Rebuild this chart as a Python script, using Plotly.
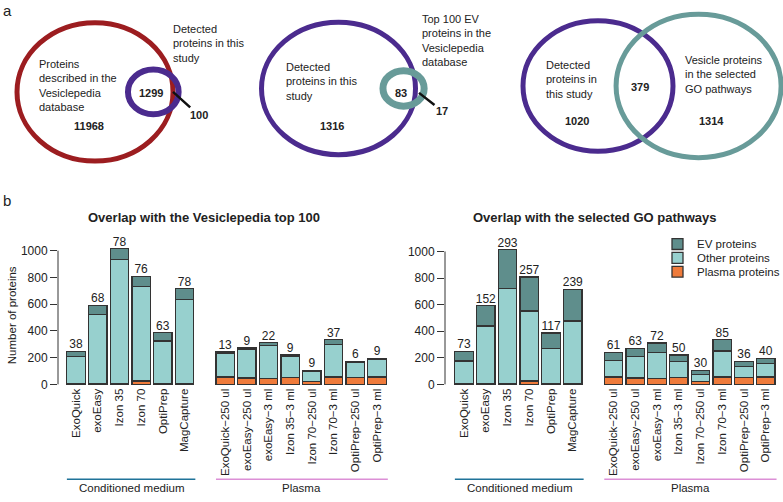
import math
import plotly.graph_objects as go

W, H = 783, 502
FONT = "Liberation Sans, Arial, sans-serif"

# ---------------- data ----------------
cm_labels = ["ExoQuick", "exoEasy", "Izon 35", "Izon 70", "OptiPrep", "MagCapture"]
plasma_labels = ["ExoQuick\u2212250 ul", "exoEasy\u2212250 ul", "exoEasy\u22123 ml", "Izon 35\u22123 ml",
                 "Izon 70\u2212250 ul", "Izon 70\u22123 ml", "OptiPrep\u2212250 ul", "OptiPrep\u22123 ml"]

cm_total = [248, 592, 1014, 808, 387, 715]
plasma_total = [242, 272, 311, 222, 106, 335, 172, 195]
cm_plasma_prot = [6, 8, 8, 25, 6, 6]
plasma_plasma_prot = [55, 48, 42, 53, 20, 55, 53, 55]

top100_cm_ev = [38, 68, 78, 76, 63, 78]
top100_plasma_ev = [13, 9, 22, 9, 9, 37, 6, 9]
go_cm_ev = [73, 152, 293, 257, 117, 239]
go_plasma_ev = [61, 63, 72, 50, 30, 85, 36, 40]

y_ticks = [0, 200, 400, 600, 800, 1000]

series_names = ["EV proteins", "Other proteins", "Plasma proteins"]

# Venn counts: (only A, both, only B)
venn1_counts = [11968, 1299, 100]
venn2_counts = [1316, 83, 17]
venn3_counts = [1020, 379, 1314]

C_EV = "#5f8e8c"
C_OTHER = "#97d0ce"
C_PLASMA = "#ef7b3b"
C_EDGE = "#333333"
series_colors = {"EV proteins": C_EV, "Other proteins": C_OTHER, "Plasma proteins": C_PLASMA}


def px(x):
    return x / W


def py(y):
    return 1 - y / H


# ---------------- bar positions ----------------
GAP_START = 6.87
x_cm = list(range(len(cm_labels)))
x_pl = [GAP_START + i for i in range(len(plasma_labels))]
x_all = x_cm + x_pl
labels_all = cm_labels + plasma_labels
total_all = cm_total + plasma_total
plasma_all = cm_plasma_prot + plasma_plasma_prot

fig = go.Figure()

panels = [
    dict(xa="x", ya="y", ev=top100_cm_ev + top100_plasma_ev),
    dict(xa="x2", ya="y2", ev=go_cm_ev + go_plasma_ev),
]

for p in panels:
    ev = p["ev"]
    other = [t - e - pl for t, e, pl in zip(total_all, ev, plasma_all)]
    for name, vals in [("Plasma proteins", plasma_all),
                       ("Other proteins", other),
                       ("EV proteins", ev)]:
        fig.add_trace(go.Bar(
            x=x_all, y=vals, name=name, xaxis=p["xa"], yaxis=p["ya"],
            width=[0.85] * len(x_all),
            marker=dict(color=series_colors[name], line=dict(color=C_EDGE, width=1.3)),
            legendgroup=name, showlegend=False, hoverinfo="skip"))
    fig.add_trace(go.Scatter(
        x=x_all, y=total_all, text=[str(v) for v in ev], mode="text",
        textposition="top center", textfont=dict(size=12, color="#222", family=FONT),
        xaxis=p["xa"], yaxis=p["ya"], cliponaxis=False, showlegend=False,
        hoverinfo="skip"))

# ---------------- Venn diagrams ----------------
def lens_area(r1, r2, d):
    if d >= r1 + r2:
        return 0.0
    if d <= abs(r1 - r2):
        return math.pi * min(r1, r2) ** 2
    a1 = r1 * r1 * math.acos((d * d + r1 * r1 - r2 * r2) / (2 * d * r1))
    a2 = r2 * r2 * math.acos((d * d + r2 * r2 - r1 * r1) / (2 * d * r2))
    a3 = 0.5 * math.sqrt((-d + r1 + r2) * (d + r1 - r2) * (d - r1 + r2) * (d + r1 + r2))
    return a1 + a2 - a3


def solve_d(r1, r2, overlap):
    lo, hi = abs(r1 - r2), r1 + r2
    for _ in range(200):
        mid = (lo + hi) / 2
        if lens_area(r1, r2, mid) > overlap:
            lo = mid
        else:
            hi = mid
    return (lo + hi) / 2


venns = [
    dict(counts=venn1_counts, ax="3", cA=(95, 93), rA_px=(78, 70),
         colA="#9c1d20", colB="#4b2b8e", wA=5, wB=6),
    dict(counts=venn2_counts, ax="4", cA=(338.5, 89.5), rA_px=(77, 67),
         colA="#4b2b8e", colB="#689b99", wA=5, wB=7),
    dict(counts=venn3_counts, ax="5", cA=(598, 87), rA_px=(75, 66),
         colA="#4b2b8e", colB="#689b99", wA=5, wB=5),
]

layout_axes = {}
shapes = []
VTOP, VBOT = 0, 200
for v in venns:
    a_only, both, b_only = v["counts"]
    rA = math.sqrt((a_only + both) / math.pi)
    rB = math.sqrt((b_only + both) / math.pi)
    d = solve_d(rA, rB, both)
    sx = v["rA_px"][0] / rA
    sy = v["rA_px"][1] / rA
    cx, cy = v["cA"]
    n = v["ax"]
    layout_axes["xaxis" + n] = dict(domain=[0, 1], range=[(0 - cx) / sx, (W - cx) / sx],
                                    visible=False, anchor="y" + n, fixedrange=True)
    layout_axes["yaxis" + n] = dict(domain=[py(VBOT), py(VTOP)],
                                    range=[(cy - VBOT) / sy, (cy - VTOP) / sy],
                                    visible=False, anchor="x" + n, fixedrange=True)
    shapes.append(dict(type="circle", xref="x" + n, yref="y" + n,
                       x0=-rA, x1=rA, y0=-rA, y1=rA,
                       line=dict(color=v["colA"], width=v["wA"])))
    shapes.append(dict(type="circle", xref="x" + n, yref="y" + n,
                       x0=d - rB, x1=d + rB, y0=-rB, y1=rB,
                       line=dict(color=v["colB"], width=v["wB"])))

annotations = []


def text(x, y, s, size=11, bold=False, anchor="center", angle=0, color="#222"):
    annotations.append(dict(
        x=px(x), y=py(y), xref="paper", yref="paper",
        text=("<b>%s</b>" % s) if bold else s, showarrow=False,
        xanchor=anchor, yanchor="middle", align=anchor if anchor != "center" else "center",
        textangle=angle, font=dict(size=size, color=color, family=FONT)))


# panel letters
text(7, 11, "a", size=15)
text(7, 203, "b", size=15)

# Venn 1 labels
text(37, 87, "Proteins<br>described in the<br>Vesiclepedia<br>database", anchor="left")
text(171, 44, "Detected<br>proteins in this<br>study", anchor="left")
text(150.5, 94, str(venn1_counts[1]), bold=True)
text(89, 128, str(venn1_counts[0]), bold=True)
# Venn 2 labels
text(284, 82, "Detected<br>proteins in this<br>study", anchor="left")
text(420, 41, "Top 100 EV<br>proteins in the<br>Vesiclepedia<br>database", anchor="left")
text(400.5, 94, str(venn2_counts[1]), bold=True)
text(332, 128, str(venn2_counts[0]), bold=True)
# Venn 3 labels
text(544, 80.5, "Detected<br>proteins in<br>this study", anchor="left")
text(683, 75, "Vesicle proteins<br>in the selected<br>GO pathways", anchor="left")
text(640, 88, str(venn3_counts[1]), bold=True)
text(577, 122, str(venn3_counts[0]), bold=True)
text(711, 122, str(venn3_counts[2]), bold=True)

# leader-line labels
for (x0, y0, xt, yt, val) in [(173, 93, 198.5, 116, venn1_counts[2]),
                              (419, 94, 442, 112, venn2_counts[2])]:
    annotations.append(dict(
        x=px(x0), y=py(y0), xref="paper", yref="paper", text="<b>%s</b>" % val,
        showarrow=True, arrowhead=0, arrowwidth=2.5, arrowcolor="#111",
        ax=xt - x0, ay=yt - y0, font=dict(size=11, color="#222", family=FONT)))

# bar chart titles
text(204, 220, "Overlap with the Vesiclepedia top 100", size=13, bold=True)
text(594, 220, "Overlap with the selected GO pathways", size=13, bold=True)
text(12, 319, "Number of proteins", size=11.5, angle=-90)

# legend (drawn manually for compact row spacing)
for i, name in enumerate(series_names):
    yc = 247 + 14 * i
    shapes.append(dict(type="rect", xref="paper", yref="paper",
                       x0=px(672), x1=px(683), y0=py(yc + 5.5), y1=py(yc - 5.5),
                       fillcolor=series_colors[name], line=dict(color=C_EDGE, width=1.3)))
    text(695, yc, name, size=11.5, anchor="left")

# ---------------- bar axes ----------------
bar_geo = [
    dict(xa="xaxis", ya="yaxis", xn="x", yn="y", left=58, right=392, c0=76, pitch=21.7,
         zero=389, k=0.1353),
    dict(xa="xaxis2", ya="yaxis2", xn="x2", yn="y2", left=445, right=780, c0=464, pitch=21.75,
         zero=389, k=0.1345),
]
TOP = 240
YMIN = -8
for g in bar_geo:
    bottom = g["zero"] - YMIN * g["k"]
    ymax = (g["zero"] - TOP) / g["k"]
    layout_axes[g["xa"]] = dict(
        domain=[px(g["left"]), px(g["right"])],
        range=[(g["left"] - g["c0"]) / g["pitch"], (g["right"] - g["c0"]) / g["pitch"]],
        tickvals=x_all, ticktext=labels_all, tickangle=-90, ticks="",
        showline=False, showgrid=False, zeroline=False, anchor=g["yn"],
        tickfont=dict(size=11.5, color="#222", family=FONT), fixedrange=True)
    layout_axes[g["ya"]] = dict(
        domain=[py(bottom), py(TOP)], range=[YMIN, ymax],
        tickvals=y_ticks, ticks="outside", ticklen=7, tickcolor="#333", tickwidth=1,
        showline=False, showgrid=False, zeroline=False, anchor=g["xn"],
        tickfont=dict(size=12, color="#222", family=FONT), fixedrange=True)
    shapes.append(dict(type="line", xref=g["xn"] + " domain", yref=g["yn"],
                       x0=0, x1=0, y0=y_ticks[0], y1=y_ticks[-1],
                       line=dict(color="#333", width=1)))
    # group underlines
    for (xs, col, name) in [(x_cm, "#1f7399", "Conditioned medium"),
                            (x_pl, "#dc8fd6", "Plasma")]:
        a = xs[0] - 0.42
        b = xs[-1] + 0.5
        shapes.append(dict(type="line", xref=g["xn"], yref="paper",
                           x0=a, x1=b, y0=py(485), y1=py(485),
                           line=dict(color=col, width=1.5)))
        annotations.append(dict(x=(a + b) / 2, y=py(494), xref=g["xn"], yref="paper",
                                text=name, showarrow=False, xanchor="center",
                                yanchor="middle",
                                font=dict(size=11.5, color="#222", family=FONT)))

fig.update_layout(
    width=W, height=H,
    margin=dict(l=0, r=0, t=0, b=0),
    paper_bgcolor="white", plot_bgcolor="rgba(0,0,0,0)",
    barmode="stack",
    font=dict(family=FONT, color="#222"),
    showlegend=False,
    shapes=shapes,
    annotations=annotations,
    **layout_axes,
)

fig.write_html("out.html", config={"displayModeBar": False},
               post_script="document.body.style.margin='0px';document.body.style.overflow='hidden';")
